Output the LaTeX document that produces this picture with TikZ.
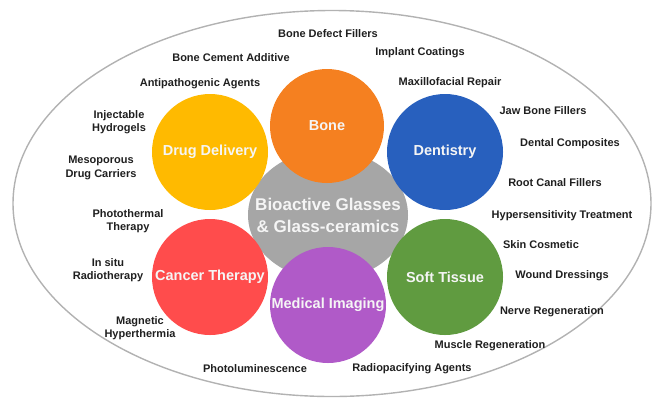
\documentclass[tikz,border=0pt]{standalone}
\usepackage{fontspec}
\setmainfont{Liberation Sans}
\usepackage{xcolor}
\usetikzlibrary{shapes.geometric}

\definecolor{hubgray}{RGB}{166,166,166}
\definecolor{boneorange}{RGB}{245,128,32}
\definecolor{dentblue}{RGB}{40,96,190}
\definecolor{drugyellow}{RGB}{255,186,0}
\definecolor{cancerred}{RGB}{255,76,76}
\definecolor{imgpurple}{RGB}{176,90,200}
\definecolor{tissuegreen}{RGB}{96,155,64}

\begin{document}
\begin{tikzpicture}[
    x=1pt, y=-1pt,
    field/.style={circle, draw=none, minimum size=116pt, inner sep=0pt, text=white!96!black, font=\fontsize{14.5}{17}\selectfont\bfseries},
    hub/.style={ellipse, fill=hubgray, minimum width=160pt, minimum height=130pt, inner sep=0pt},
    hubtext/.style={align=center, text=white!96!black, font=\fontsize{17}{22}\selectfont\bfseries, inner sep=0pt},
    item/.style={align=center, text=black!88, font=\fontsize{11}{13.5}\selectfont\bfseries, inner sep=0pt},
    rim/.style={draw=black!30, line width=1.4pt},
]
\useasboundingbox (0,0) rectangle (652,399);

% Outer ellipse
\draw[rim] (332,203.5) ellipse [x radius=319pt, y radius=193pt];

% Center
\node[hub] (hub) at (328,215) {};
\node[hubtext] (hubtxt) at (hub) {Bioactive Glasses\\\& Glass-ceramics};

% Fields of application
\node[field, fill=drugyellow] (drug) at (210,152) {Drug Delivery};
\node[field, fill=boneorange, minimum size=114pt] (bone) at (327,126) {Bone};
\node[field, fill=dentblue] (dent) at (445,152) {Dentistry};
\node[field, fill=cancerred] (cancer) at (210,277) {Cancer Therapy};
\node[field, fill=imgpurple] (imaging) at (328,305) {Medical Imaging};
\node[field, fill=tissuegreen] (tissue) at (445,277) {Soft Tissue};

% Uses
\foreach \txt/\x/\y [count=\i] in {
    Bone Defect Fillers/328/34,
    Bone Cement Additive/231/58,
    Implant Coatings/420/53,
    Antipathogenic Agents/200/84,
    Maxillofacial Repair/450/83,
    {Injectable\\Hydrogels}/119/122,
    {Mesoporous\\Drug Carriers}/101/168,
    Jaw Bone Fillers/543/111,
    Dental Composites/570/144,
    Root Canal Fillers/555/183,
    {Photothermal\\Therapy}/128/221,
    {In situ\\Radiotherapy}/108/270,
    {Magnetic\\Hyperthermia}/140/328,
    Photoluminescence/255/369,
    Hypersensitivity Treatment/562/216,
    Skin Cosmetic/541/245,
    Wound Dressings/562/276,
    Nerve Regeneration/552/312,
    Muscle Regeneration/490/346,
    Radiopacifying Agents/412/369}
    \node[item] (U\i) at (\x,\y) {\txt};

\end{tikzpicture}
\end{document}
